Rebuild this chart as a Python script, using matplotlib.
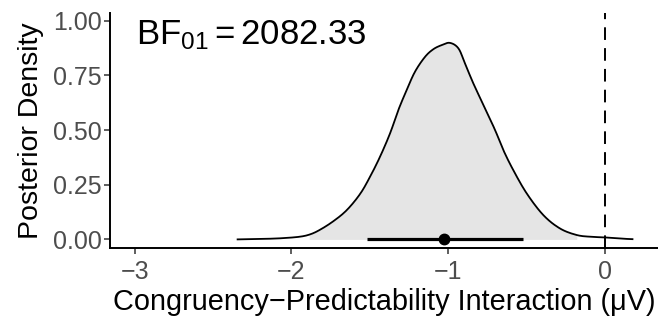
import numpy as np
import matplotlib
matplotlib.use("Agg")
import matplotlib.pyplot as plt

plt.rcParams['font.family'] = ['Liberation Sans', 'DejaVu Sans']
plt.rcParams['mathtext.fontset'] = 'custom'
plt.rcParams['mathtext.rm'] = 'Liberation Sans'
plt.rcParams['mathtext.it'] = 'Liberation Sans:italic'

# Posterior density of the interaction effect (x in µV, y density)
density_x = [-2.349, -2.20, -2.073, -1.95, -1.881, -1.818, -1.733, -1.647, -1.562,
             -1.499, -1.435, -1.371, -1.318, -1.265, -1.212, -1.148, -1.095, -1.041,
             -0.989, -0.935, -0.893, -0.840, -0.765, -0.701, -0.648, -0.585,
             -0.499, -0.393, -0.287, -0.180, -0.09, 0.0, 0.09, 0.181]
density_y = [0.000, 0.002, 0.005, 0.012, 0.023, 0.044, 0.083, 0.134, 0.208,
             0.286, 0.378, 0.485, 0.592, 0.683, 0.767, 0.835, 0.870, 0.889,
             0.899, 0.874, 0.805, 0.714, 0.599, 0.500, 0.408, 0.317,
             0.210, 0.111, 0.050, 0.020, 0.012, 0.009, 0.004, 0.001]

# Shaded region of the posterior
shade_lo, shade_hi = -1.89, -0.18

# Point estimate and credible interval
point_est = -1.03
ci_lo, ci_hi = -1.52, -0.52

null_value = 0.0
bf_label = r"$\mathrm{BF}_{01} = 2082.33$"

x_ticks = [-3, -2, -1, 0]
y_ticks = [0.00, 0.25, 0.50, 0.75, 1.00]


def smooth_path(xs, ys, n=12):
    """Catmull-Rom path through the given points, for drawing."""
    p = np.column_stack([xs, ys])
    p = np.vstack([p[0], p, p[-1]])
    out = []
    t = np.linspace(0, 1, n, endpoint=False)[:, None]
    for i in range(1, len(p) - 2):
        p0, p1, p2, p3 = p[i - 1], p[i], p[i + 1], p[i + 2]
        seg = 0.5 * ((2 * p1) + (-p0 + p2) * t + (2 * p0 - 5 * p1 + 4 * p2 - p3) * t ** 2
                     + (-p0 + 3 * p1 - 3 * p2 + p3) * t ** 3)
        out.append(seg)
    out.append(p[-2][None, :])
    out = np.vstack(out)
    out[:, 1] = np.clip(out[:, 1], 0, None)
    return out[:, 0], out[:, 1]


fig = plt.figure(figsize=(6.58, 3.21), dpi=100)
ax = fig.add_axes([0.1672, 0.2283, 0.8328, 0.7321])

sx, sy = smooth_path(density_x, density_y)
mask = (sx >= shade_lo) & (sx <= shade_hi)
ax.fill_between(sx[mask], 0, sy[mask], color='#E5E5E5', lw=0, zorder=1)
ax.plot(sx, sy, color='black', lw=1.3, zorder=3, solid_capstyle='butt')

ax.axvline(null_value, color='black', lw=1.4, dashes=(6.5, 4.2), zorder=2)

ax.plot([ci_lo, ci_hi], [0, 0], color='black', lw=2.3, solid_capstyle='butt', zorder=4)
ax.plot([point_est], [0], 'o', color='black', ms=7.5, zorder=5)

ax.set_xlim(-3.157, 0.338)
ax.set_ylim(-0.038, 1.037)
ax.set_xticks(x_ticks)
ax.set_xticklabels(["\u22123", "\u22122", "\u22121", "0"])
ax.set_yticks(y_ticks)
ax.set_yticklabels([f"{v:.2f}" for v in y_ticks])

for s in ['top', 'right']:
    ax.spines[s].set_visible(False)
for s in ['left', 'bottom']:
    ax.spines[s].set_linewidth(1.4)
    ax.spines[s].set_color('black')

ax.tick_params(axis='both', length=4, width=1.1, color='#333333',
               labelcolor='#4D4D4D', labelsize=18)
ax.tick_params(axis='x', pad=5)
ax.tick_params(axis='y', pad=2)

ax.set_xlabel("Congruency\u2212Predictability Interaction (\u03bcV)", fontsize=20.8,
              color='black', labelpad=3)
ax.set_ylabel("Posterior Density", fontsize=20.5, color='black', labelpad=6)

ax.text(0.047, 0.905, bf_label, transform=ax.transAxes, fontsize=25,
        ha='left', va='center', color='black')

fig.savefig("out.png", dpi=100)
